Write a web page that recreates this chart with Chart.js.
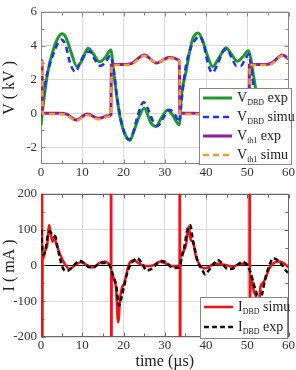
<!DOCTYPE html>
<html><head><meta charset="utf-8">
<script src="https://cdn.jsdelivr.net/npm/chart.js@4.4.0/dist/chart.umd.min.js"></script>
<style>
html,body{margin:0;padding:0;background:#fff;overflow:hidden;}
#wrap{position:relative;width:296px;height:370px;}
canvas{position:absolute;left:0;}
#c1{top:0;} #c2{top:182px;}
.leg{position:absolute;background:#fff;border:1px solid #888;box-sizing:border-box;font-family:"Liberation Serif","Times New Roman",serif;color:#222;}
.row{position:absolute;left:0;width:100%;height:18px;white-space:nowrap;}
.row svg{position:absolute;left:2px;top:0;}
.row .t{position:absolute;left:37px;top:0;line-height:18px;font-size:14px;}
.row sub{font-size:8px;vertical-align:-3px;line-height:0;}
</style></head>
<body>
<div id="wrap">
<canvas id="c1" width="296" height="182"></canvas>
<canvas id="c2" width="296" height="188"></canvas>
<div id="leg1" class="leg" style="left:199px;top:88px;width:93px;height:77px"></div>
<div id="leg2" class="leg" style="left:200px;top:297px;width:88px;height:42px"></div>
</div>
<script>
// ---- tick values ----
const xTickValues = [0, 10, 20, 30, 40, 50, 60];
const xMinorValues = [5, 15, 25, 35, 45, 55];
const vTickValues = [-2, 0, 2, 4, 6];
const vMinorValues = [-1, 1, 3, 5];
const iTickValues = [-200, -100, 0, 100, 200];
const iMinorValues = [-150, -50, 50, 150];

// ---- V_DBD exp ----
const vdbdExpT = [0, 0.4, 0.9, 1.7, 2.9, 4.1, 5.1, 6.1, 7.3, 8.7, 10.0, 11.4, 12.7, 14.2, 15.6, 16.9, 17.7, 18.5, 19.3, 20.6, 21.6, 22.6, 23.8, 25.0, 26.7, 27.9, 29.1, 30.7, 31.9, 33.5, 34.1, 35.1, 36.7, 38.1, 39.1, 40.4, 41.6, 43.2, 44.8, 46.4, 47.6, 48.8, 50.3, 50.8, 51.6, 52.2, 53.0, 54.0, 55.2, 56.5, 58.0, 60.0];
const vdbdExpV = [-0.7, 0.2, 1.2, 2.5, 3.7, 4.45, 4.7, 4.45, 3.6, 2.77, 3.15, 3.84, 3.5, 3.04, 3.3, 3.74, 2.3, 0.77, -0.39, -1.36, -1.59, -1.0, -0.2, 0.3, -0.6, -0.78, -0.3, 0.19, -0.1, -0.68, 1.16, 2.4, 4.35, 4.75, 4.35, 3.37, 2.77, 3.3, 3.88, 3.4, 3.07, 3.3, 3.7, 3.3, 2.1, 1.2, 0.0, -1.0, -1.6, -1.2, 0.0, 0.1];

// ---- V_DBD simu ----
const vdbdSimT = [0, 0.5, 1.2, 2.0, 3.0, 4.0, 5.0, 6.0, 7.0, 8.3, 9.5, 10.7, 11.9, 13.0, 14.4, 15.6, 16.8, 17.6, 18.4, 19.3, 20.4, 21.4, 22.4, 23.5, 24.9, 26.2, 27.2, 28.3, 29.6, 31.1, 32.3, 33.5, 34.1, 35.0, 36.2, 37.4, 38.4, 39.4, 40.4, 41.5, 42.8, 44.0, 45.0, 46.2, 47.4, 48.4, 49.5, 50.4, 51.0, 51.8, 52.6, 53.5, 54.5, 55.5, 56.6, 58.0, 59.2, 60.0];
const vdbdSimV = [-0.2, 0.9, 2.0, 2.8, 3.5, 4.1, 4.35, 4.0, 3.0, 2.45, 3.0, 3.55, 3.65, 3.2, 2.8, 3.0, 3.4, 2.6, 1.0, -0.3, -1.3, -1.55, -1.1, -0.1, 0.65, 0.1, -0.5, -0.75, -0.3, 0.2, 0.0, -0.5, 0.8, 2.6, 3.8, 4.35, 4.55, 4.1, 3.0, 2.4, 2.9, 3.6, 3.8, 3.3, 2.8, 2.8, 3.2, 3.5, 2.6, 1.0, -0.3, -1.3, -1.55, -1.1, -0.1, 0.6, 0.1, -0.4];

// ---- V_th1 exp ----
const vth1ExpT = [0, 0.25, 0.35, 2.0, 4.5, 6.2, 8.5, 11.2, 14.0, 16.3, 16.95, 17.05, 18.0, 20.0, 22.0, 25.0, 28.0, 31.0, 33.55, 33.65, 34.5, 37.0, 39.7, 42.0, 44.7, 47.5, 49.8, 50.45, 50.55, 52.0, 54.0, 55.8, 58.6, 60.0];
const vth1ExpV = [3.1, 3.1, 0.0, 0.0, 0.0, -0.05, -0.4, -0.05, -0.3, -0.15, -0.1, 2.85, 2.88, 2.88, 2.95, 3.45, 2.97, 3.3, 3.1, 0.0, 0.0, 0.0, -0.05, -0.4, -0.05, -0.3, -0.15, -0.1, 2.85, 2.88, 2.88, 2.95, 3.45, 3.2];

// ---- V_th1 simu ----
const vth1SimT = [0, 0.3, 0.4, 2.0, 4.5, 6.2, 8.5, 11.1, 14.0, 16.3, 17.0, 17.1, 18.0, 20.0, 22.0, 25.0, 28.0, 31.0, 33.6, 33.7, 34.5, 37.0, 39.7, 42.0, 44.6, 47.5, 49.8, 50.5, 50.6, 52.0, 54.0, 55.8, 58.5, 60.0];
const vth1SimV = [3.05, 3.05, -0.05, -0.05, -0.05, -0.1, -0.45, -0.1, -0.35, -0.2, -0.15, 2.85, 2.85, 2.85, 2.9, 3.4, 3.0, 3.25, 3.05, -0.05, -0.05, -0.05, -0.1, -0.45, -0.1, -0.35, -0.2, -0.15, 2.85, 2.85, 2.85, 2.9, 3.4, 3.25];

// ---- I_DBD simu ----
const idbdSimT = [0, 0.2, 0.25, 0.3, 0.38, 0.6, 1.0, 1.5, 1.95, 2.3, 2.8, 3.2, 3.7, 4.5, 5.7, 6.9, 8.5, 9.7, 11.3, 12.6, 14.2, 15.6, 16.6, 16.95, 17.0, 17.05, 17.12, 17.3, 17.7, 18.2, 18.7, 19.2, 19.7, 20.2, 20.6, 21.4, 22.6, 23.8, 25.4, 27.1, 28.7, 30.3, 31.9, 33.4, 33.6, 33.65, 33.7, 33.8, 34.1, 34.6, 35.2, 35.8, 36.3, 36.9, 37.5, 38.3, 39.5, 40.8, 42.0, 44.8, 46.4, 48.0, 49.6, 50.4, 50.55, 50.6, 50.65, 50.75, 51.1, 51.6, 52.2, 52.7, 53.2, 53.7, 54.3, 55.2, 56.8, 58.0, 59.2, 60.0];
const idbdSimV = [30, 30, 600, -600, 25, 22, 40, 57, 113, 92, 66, 80, 60, 35, 5, -10, 3, 9, 0, -6, 7, 11, 3, 3, 600, -600, -30, -30, -38, -64, -159, -90, -60, -51, -30, 5, 14, 5, -2, 0, 10, 5, -2, -2, -2, 600, -600, 31, 35, 40, 60, 109, 72, 65, 27, 5, -8, -4, 5, 1, -3, 3, 5, 3, 3, 600, -600, -30, -38, -73, -90, -130, -60, -50, -40, -12, 9, 11, 3, -6];

// ---- I_DBD exp ----
const idbdExpT = [0, 0.5, 1.0, 1.6, 2.2, 2.8, 3.5, 4.0, 4.6, 5.2, 5.9, 6.6, 7.6, 8.8, 9.6, 10.6, 11.7, 12.7, 13.8, 15.0, 16.3, 17.0, 17.5, 18.2, 18.9, 19.5, 20.1, 20.8, 21.6, 22.6, 23.3, 24.5, 25.6, 26.8, 28.0, 29.2, 30.4, 31.6, 32.7, 33.5, 34.2, 34.8, 35.5, 36.2, 36.8, 37.4, 38.0, 39.0, 39.8, 40.6, 41.6, 42.8, 44.0, 45.2, 46.3, 47.5, 48.8, 50.0, 50.8, 51.5, 52.3, 53.0, 53.6, 54.3, 55.2, 56.3, 57.3, 58.5, 59.4, 60.0];
const idbdExpV = [100, 30, 40, 80, 95, 85, 80, 50, 20, -5, -15, -14, -5, 10, 12, 5, -5, -5, 2, 7, 5, -10, -30, -55, -112, -90, -60, -25, 0, 15, 20, 5, -14, -10, 3, 12, 8, -5, -7, -5, 25, 55, 100, 112, 70, 40, 10, -10, -25, -15, 0, 15, 5, -10, -10, 0, 10, 0, -20, -50, -80, -110, -80, -40, -5, 20, 15, 0, -15, -20];

const FONT = '"Liberation Serif", "Times New Roman", serif';
const pts = (t, v) => t.map((x, i) => ({x: x, y: v[i]}));

function line(label, t, v, color, width, dash, order) {
  return {
    label: label, data: pts(t, v), borderColor: color, backgroundColor: color,
    borderWidth: width, borderDash: dash || [], pointRadius: 0, fill: false,
    tension: 0.4, cubicInterpolationMode: 'monotone', order: order
  };
}

const topSets = [
  line('V_DBD exp', vdbdExpT, vdbdExpV, '#1e9a2a', 3, null, 4),
  line('V_DBD simu', vdbdSimT, vdbdSimV, '#1f33ee', 2.6, [6, 4], 3),
  line('V_th1 exp', vth1ExpT, vth1ExpV, '#8d1f9c', 3, null, 2),
  line('V_th1 simu', vth1SimT, vth1SimV, '#f59b2c', 2.6, [6, 4], 1)
];
const botSets = [
  line('I_DBD simu', idbdSimT, idbdSimV, '#ee1515', 2.6, null, 2),
  line('I_DBD exp', idbdExpT, idbdExpV, '#111111', 2.6, [5, 3], 1)
];

const framePlugin = {
  id: 'frame',
  beforeDatasetsDraw(chart, args, opts) {
    const {ctx, chartArea: a, scales} = chart;
    ctx.save();
    ctx.strokeStyle = opts.color;
    ctx.lineWidth = 1;
    const L = Math.round(a.left) + 0.5, R = Math.round(a.right) - 0.5;
    const T = Math.round(a.top) + 0.5, B = Math.round(a.bottom) - 0.5;
    ctx.beginPath();
    const xt = (vals, len) => vals.forEach(v => {
      const p = Math.round(scales.x.getPixelForValue(v)) + 0.5;
      ctx.moveTo(p, T); ctx.lineTo(p, T + len);
      ctx.moveTo(p, B); ctx.lineTo(p, B - len);
    });
    const yt = (vals, len) => vals.forEach(v => {
      const p = Math.round(scales.y.getPixelForValue(v)) + 0.5;
      ctx.moveTo(L, p); ctx.lineTo(L + len, p);
      ctx.moveTo(R, p); ctx.lineTo(R - len, p);
    });
    xt(opts.xMajor, 4); xt(opts.xMinor, 3);
    yt(opts.yMajor, 4); yt(opts.yMinor, 3);
    ctx.stroke();
    ctx.strokeRect(L, T, R - L, B - T);
    ctx.restore();
  }
};

function makeChart(id, datasets, o) {
  return new Chart(document.getElementById(id), {
    type: 'line',
    data: {datasets: datasets},
    plugins: [framePlugin],
    options: {
      responsive: false, animation: false, events: [], devicePixelRatio: 1,
      layout: {padding: {top: o.padTop, right: 6, left: 0, bottom: 0}},
      plugins: {
        legend: {display: false}, tooltip: {enabled: false},
        frame: {color: o.frameColor, xMajor: xTickValues, xMinor: xMinorValues, yMajor: o.yTicks, yMinor: o.yMinor}
      },
      scales: {
        x: {
          type: 'linear', min: 0, max: 60,
          afterBuildTicks: s => { s.ticks = xTickValues.map(v => ({value: v})); },
          afterFit: s => { s.height = o.xHeight; },
          ticks: {font: {family: FONT, size: 13}, color: '#333', padding: 1, maxRotation: 0, autoSkip: false},
          grid: {color: '#dadada', drawTicks: false},
          border: {display: false},
          title: o.xTitle ? {display: true, text: o.xTitle, font: {family: FONT, size: 16, lineHeight: 1.0}, color: '#222', padding: 0} : {display: false}
        },
        y: {
          type: 'linear', min: o.yMin, max: o.yMax,
          afterBuildTicks: s => { s.ticks = o.yTicks.map(v => ({value: v})); },
          afterFit: s => { s.width = 41; },
          ticks: {font: {family: FONT, size: 13}, color: '#333', padding: 4},
          grid: {color: ctx => (o.zeroBlack && ctx.tick && ctx.tick.value === 0) ? '#000' : '#dadada', drawTicks: false},
          border: {display: false},
          title: {display: true, text: o.yTitle, font: {family: FONT, size: 16, lineHeight: 1.2}, color: '#222', padding: 0}
        }
      }
    }
  });
}

makeChart('c1', topSets, {padTop: 10, xHeight: 18, yMin: -3, yMax: 6, yTicks: vTickValues, yMinor: vMinorValues, yTitle: 'V ( kV )', frameColor: '#888', zeroBlack: false});
makeChart('c2', botSets, {padTop: 1, xHeight: 33, yMin: -200, yMax: 200, yTicks: iTickValues, yMinor: iMinorValues, yTitle: 'I ( mA )', xTitle: 'time (\u00b5s)', frameColor: '#666', zeroBlack: true});

function buildLegend(el, datasets, step) {
  datasets.forEach((d, i) => {
    const m = d.label.match(/^(\S)_(\S+) (.*)$/);
    const row = document.createElement('div');
    row.className = 'row';
    row.style.top = (i * step) + 'px';
    const dash = d.borderDash && d.borderDash.length ? d.borderDash.join(',') : 'none';
    row.innerHTML = '<svg width="32" height="18"><line x1="1" y1="9" x2="30" y2="9" stroke="' + d.borderColor +
      '" stroke-width="' + d.borderWidth + '" stroke-dasharray="' + dash + '"/></svg>' +
      '<span class="t">' + m[1] + '<sub>' + m[2] + '</sub> ' + m[3] + '</span>';
    el.appendChild(row);
  });
}
buildLegend(document.getElementById('leg1'), topSets, 19);
buildLegend(document.getElementById('leg2'), botSets, 20);
</script>
</body></html>
